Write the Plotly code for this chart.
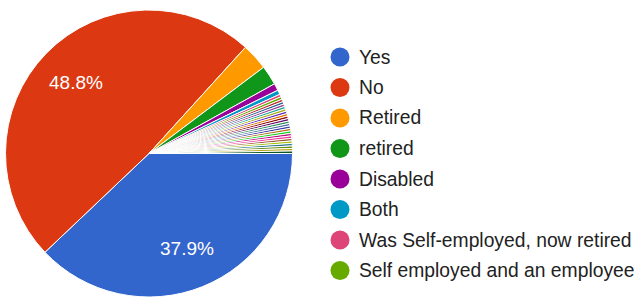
import math
import plotly.graph_objects as go

# ---- data (percent of responses) ----
legend_labels = ["Yes", "No", "Retired", "retired", "Disabled", "Both",
                 "Was Self-employed, now retired", "Self employed and an employee"]
legend_values = [37.9, 48.8, 3.0, 2.2, 0.8, 0.5, 0.3, 0.3]

other_labels = ["Other 1", "Other 2", "Other 3", "Other 4", "Other 5", "Other 6",
                "Other 7", "Other 8", "Other 9", "Other 10", "Other 11", "Other 12",
                "Other 13", "Other 14", "Other 15", "Other 16", "Other 17", "Other 18",
                "Other 19", "Other 20", "Other 21", "Other 22"]
other_values = [0.28, 0.28, 0.28, 0.28, 0.28, 0.28, 0.28, 0.28, 0.28, 0.28, 0.28,
                0.28, 0.28, 0.28, 0.28, 0.28, 0.28, 0.28, 0.28, 0.28, 0.28, 0.28]

palette = ["#3366cc", "#dc3912", "#ff9900", "#109618", "#990099", "#0099c6",
           "#dd4477", "#66aa00", "#b82e2e", "#316395", "#994499", "#22aa99",
           "#aaaa11", "#6633cc", "#e67300", "#8b0707", "#651067", "#329262",
           "#5574a6", "#3b3eac", "#b77322", "#16d620", "#b91383", "#f4359e",
           "#9c5935", "#a9c413", "#2a778d", "#668d1c", "#bea413", "#0c5922"]

labels = legend_labels + other_labels
values = legend_values + other_values

W, H = 634, 297
# pie placement (pixels)
px0, px1 = 5, 293
py_top, py_bot = 10, 297

fig = go.Figure(go.Pie(
    labels=labels,
    values=values,
    sort=False,
    direction="clockwise",
    rotation=90,
    textinfo="none",
    marker=dict(colors=palette[:len(labels)], line=dict(color="white", width=1)),
    domain=dict(x=[px0 / W, px1 / W], y=[1 - py_bot / H, 1 - py_top / H]),
    showlegend=False,
    hoverinfo="label+percent",
))

# percentage labels for the two large slices, placed along each slice's bisector
cx = (px0 + px1) / 2
cy = (py_top + py_bot) / 2
r = min(px1 - px0, py_bot - py_top) / 2
total = sum(values)
start = 0.0  # degrees clockwise from 3 o'clock
for i, v in enumerate(values):
    span = v / total * 360
    if i < 2:
        mid = math.radians(start + span / 2)
        lx = cx + 0.71 * r * math.cos(mid)
        ly = cy + 0.71 * r * math.sin(mid)
        fig.add_annotation(text=f"{v / total * 100:.1f}%", xref="paper", yref="paper",
                           x=lx / W, y=1 - ly / H, xanchor="center", yanchor="middle",
                           showarrow=False,
                           font=dict(size=19, color="white", family="Liberation Sans, Arial"))
    start += span

# manual legend (only first 8 entries, as in the reference)
leg_x = 340
leg_y0 = 57
leg_step = 30.5
rad = 9.5
for i, lab in enumerate(legend_labels):
    ly = leg_y0 + i * leg_step
    fig.add_shape(type="circle", xref="paper", yref="paper",
                  x0=(leg_x - rad) / W, x1=(leg_x + rad) / W,
                  y0=1 - (ly + rad) / H, y1=1 - (ly - rad) / H,
                  fillcolor=palette[i], line=dict(width=0))
    fig.add_annotation(text=lab, xref="paper", yref="paper",
                       x=357 / W, y=1 - ly / H, xanchor="left", yanchor="middle",
                       showarrow=False,
                       font=dict(size=19.3, color="#222222", family="Liberation Sans, Arial"))

fig.update_layout(
    width=W, height=H,
    margin=dict(l=0, r=0, t=0, b=0),
    paper_bgcolor="white",
    plot_bgcolor="white",
)

fig.write_html("out.html", config={"displayModeBar": False},
               post_script="document.body.style.margin='0';document.body.style.overflow='hidden';")
